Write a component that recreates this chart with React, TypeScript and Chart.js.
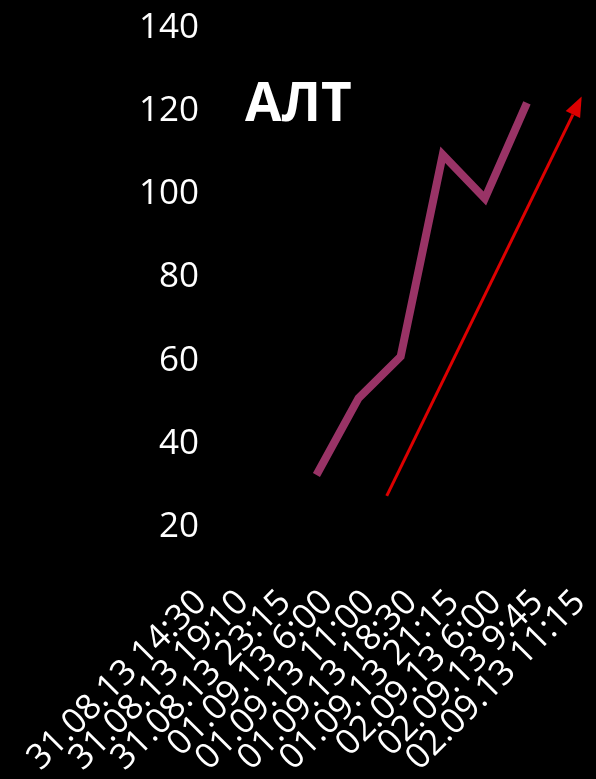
import React, { useEffect, useRef } from "react";
import { Chart, registerables } from "chart.js";

Chart.register(...registerables);

const categories = [
  "31.08.13 14:30",
  "31.08.13 19:10",
  "31.08.13 23:15",
  "01.09.13 6:00",
  "01.09.13 11:00",
  "01.09.13 18:30",
  "01.09.13 21:15",
  "02.09.13 6:00",
  "02.09.13 9:45",
  "02.09.13 11:15",
];

const altValues: (number | null)[] = [null, null, null, null, 32.5, 51, 61, 109.5, 99, 122];

const yMin = 20;
const yMax = 140;
const yStep = 20;

// trend arrow, in data units (category index, value)
const arrowFrom = { x: 5.67, y: 27.5 };
const arrowTo = { x: 10.3, y: 123.5 };

const titleText = "АЛТ";

const FONT = "'Open Sans', 'DejaVu Sans', sans-serif";

const arrowPlugin = {
  id: "trendArrow",
  afterDatasetsDraw(chart: any) {
    const xs = chart.scales.x;
    const ys = chart.scales.y;
    const ctx = chart.ctx;
    const x1 = xs.getPixelForValue(arrowFrom.x);
    const y1 = ys.getPixelForValue(arrowFrom.y);
    const x2 = xs.getPixelForValue(arrowTo.x);
    const y2 = ys.getPixelForValue(arrowTo.y);
    const ang = Math.atan2(y2 - y1, x2 - x1);
    const headLen = 20;
    const headW = 8;
    const bx = x2 - headLen * Math.cos(ang);
    const by = y2 - headLen * Math.sin(ang);
    ctx.save();
    ctx.strokeStyle = "#DD0000";
    ctx.fillStyle = "#DD0000";
    ctx.lineWidth = 3;
    ctx.beginPath();
    ctx.moveTo(x1, y1);
    ctx.lineTo(bx, by);
    ctx.stroke();
    ctx.beginPath();
    ctx.moveTo(x2, y2);
    ctx.lineTo(bx + headW * Math.sin(ang), by - headW * Math.cos(ang));
    ctx.lineTo(bx - headW * Math.sin(ang), by + headW * Math.cos(ang));
    ctx.closePath();
    ctx.fill();
    ctx.restore();
  },
};

export default function App() {
  const ref = useRef<HTMLCanvasElement | null>(null);

  useEffect(() => {
    document.body.style.background = "#000";
    const chart = new Chart(ref.current as HTMLCanvasElement, {
      type: "line",
      data: {
        labels: categories,
        datasets: [
          {
            label: titleText,
            data: altValues,
            borderColor: "#993366",
            backgroundColor: "#993366",
            borderWidth: 8,
            pointRadius: 0,
            tension: 0,
            spanGaps: false,
          },
        ],
      },
      options: {
        animation: false,
        responsive: false,
        maintainAspectRatio: false,
        layout: { padding: { left: 113, right: 40, top: 20, bottom: 0 } },
        plugins: {
          legend: { display: false },
          tooltip: { enabled: false },
          title: { display: false },
        },
        scales: {
          x: {
            type: "category",
            offset: true,
            grid: { display: false, drawTicks: false },
            border: { display: false },
            ticks: {
              color: "#fff",
              font: { family: FONT, size: 35 },
              minRotation: 45,
              maxRotation: 45,
              autoSkip: false,
              padding: 55,
              labelOffset: 53,
            },
            afterFit(scale: any) {
              scale.paddingLeft = 0;
              scale.paddingRight = 0;
              scale.height = 244;
            },
          },
          y: {
            min: yMin,
            max: yMax,
            grid: { display: false, drawTicks: false },
            border: { display: false },
            ticks: {
              stepSize: yStep,
              color: "#fff",
              mirror: true,
              crossAlign: "far",
              padding: 12,
              font: { family: FONT, size: 35 },
            },
            afterFit(scale: any) {
              scale.width = 6;
              scale.paddingTop = 0;
              scale.paddingBottom = 0;
            },
          },
        },
      },
      plugins: [arrowPlugin],
    });
    return () => chart.destroy();
  }, []);

  return (
    <div style={{ position: "relative", width: 580, height: 763, background: "#000" }}>
      <canvas ref={ref} width={580} height={763} style={{ display: "block" }} />
      <div
        style={{
          position: "absolute",
          left: 237,
          top: 66,
          color: "#fff",
          fontFamily: FONT,
          fontWeight: 700,
          fontSize: 53,
          lineHeight: 1,
          whiteSpace: "nowrap",
        }}
      >
        {titleText}
      </div>
    </div>
  );
}
